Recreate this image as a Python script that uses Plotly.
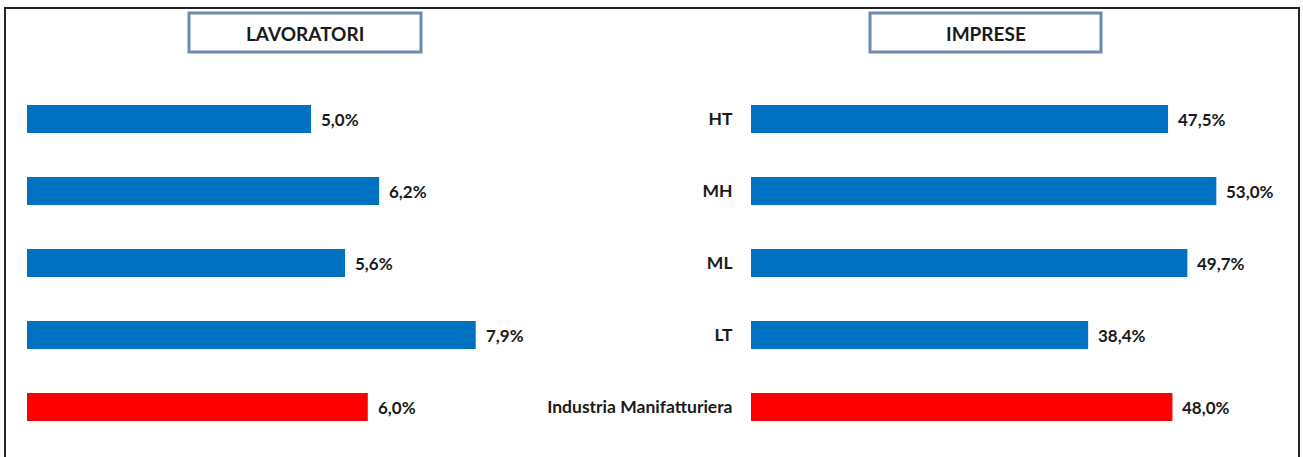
import plotly.graph_objects as go

categories = ["HT", "MH", "ML", "LT", "Industria Manifatturiera"]
lavoratori = [5.0, 6.2, 5.6, 7.9, 6.0]
imprese = [47.5, 53.0, 49.7, 38.4, 48.0]
bar_colors = ["#0070C0", "#0070C0", "#0070C0", "#0070C0", "#FF0000"]
panel_titles = ["LAVORATORI", "IMPRESE"]

W, H = 1303, 457
FONT = "Lato"
TXT = "#1a1a1a"

def fmt(v):
    return f"{v:.1f}".replace(".", ",") + "%"

fig = go.Figure()
fig.add_trace(go.Bar(x=lavoratori, y=categories, orientation="h", marker=dict(color=bar_colors, line=dict(width=0)),
                     width=0.39, xaxis="x", yaxis="y", hoverinfo="skip"))
fig.add_trace(go.Bar(x=imprese, y=categories, orientation="h", marker=dict(color=bar_colors, line=dict(width=0)),
                     width=0.39, xaxis="x2", yaxis="y2", hoverinfo="skip"))

annotations = []
for xa, ya, vals in (("x", "y", lavoratori), ("x2", "y2", imprese)):
    for c, v in zip(categories, vals):
        annotations.append(dict(x=v, y=c, xref=xa, yref=ya, text=fmt(v), showarrow=False,
                                xanchor="left", xshift=8, font=dict(family=FONT, size=17, color=TXT, weight="bold")))

# title boxes
boxes = [(189, 421), (870, 1101)]
shapes = []
for (x0, x1), t in zip(boxes, panel_titles):
    shapes.append(dict(type="rect", xref="paper", yref="paper", x0=x0 / W, x1=x1 / W,
                       y0=1 - 52 / H, y1=1 - 13 / H, line=dict(color="#6F8AAD", width=3), fillcolor="white"))
    annotations.append(dict(x=(x0 + x1) / 2 / W, y=1 - 33 / H, xref="paper", yref="paper", text=t, showarrow=False,
                            xanchor="center", yanchor="middle",
                            font=dict(family=FONT, size=19, color=TXT, weight="bold")))
# outer border
shapes.append(dict(type="rect", xref="paper", yref="paper", x0=5 / W, x1=1299 / W, y0=-0.05, y1=1 - 8 / H,
                   line=dict(color="#222222", width=2), fillcolor="rgba(0,0,0,0)"))

yrange = [(H - 119) / 72, -119 / 72]
fig.update_layout(
    width=W, height=H, margin=dict(l=0, r=0, t=0, b=0),
    paper_bgcolor="white", plot_bgcolor="white", showlegend=False,
    xaxis=dict(domain=[27 / W, 520 / W], range=[0, 493 / 56.8], visible=False, fixedrange=True),
    yaxis=dict(domain=[0, 1], range=yrange, type="category", categoryorder="array", categoryarray=categories,
               visible=False, anchor="x"),
    xaxis2=dict(domain=[751 / W, 1290 / W], range=[0, 539 / 8.78], visible=False, anchor="y2"),
    yaxis2=dict(domain=[0, 1], range=yrange, type="category", categoryorder="array", categoryarray=categories,
                anchor="x2", showline=False, showgrid=False, zeroline=False, ticks="outside", ticklen=14,
                tickcolor="rgba(0,0,0,0)", tickfont=dict(family=FONT, size=17.5, color=TXT, weight="bold")),
    shapes=shapes, annotations=annotations,
)
fig.write_html("out.html", config={"displayModeBar": False},
               post_script="document.body.style.margin='0';document.body.style.overflow='hidden';")
